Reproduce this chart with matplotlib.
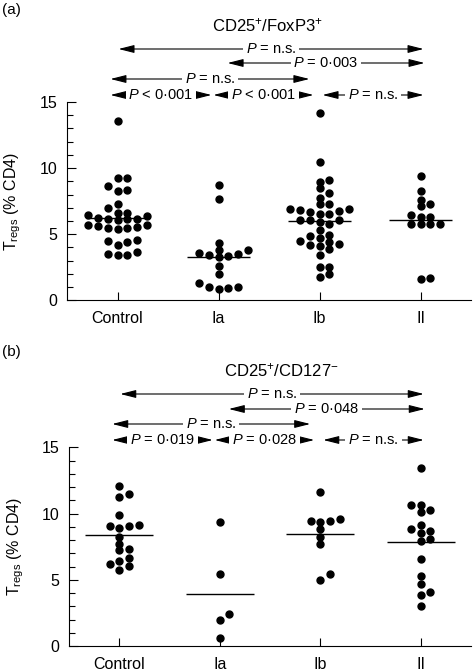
import numpy as np
import matplotlib
matplotlib.use('Agg')
import matplotlib.pyplot as plt
from matplotlib import transforms

plt.rcParams['font.family'] = ['Liberation Sans', 'DejaVu Sans']
plt.rcParams['mathtext.fontset'] = 'custom'
plt.rcParams['mathtext.rm'] = 'Liberation Sans'
plt.rcParams['mathtext.it'] = 'Liberation Sans:italic'
plt.rcParams['mathtext.bf'] = 'Liberation Sans:bold'

# ---------------- data ----------------
categories = ['Control', 'Ia', 'Ib', 'II']

foxp3_control = [13.53, 9.25, 9.25, 8.38, 8.30, 8.65, 7.25, 6.64, 6.97, 6.64,
                 6.36, 6.16, 6.11, 6.16, 6.16, 6.26, 6.49, 5.71, 5.63, 5.48,
                 5.43, 5.48, 5.56, 5.66, 4.55, 4.42, 4.22, 4.47, 3.49, 3.42,
                 3.42, 3.67]
foxp3_ia = [8.75, 7.70, 4.35, 3.80, 3.55, 3.42, 3.25, 3.37, 3.49, 3.80, 2.61,
            1.96, 1.28, 1.03, 0.83, 0.95, 1.03]
foxp3_ib = [14.16, 10.44, 8.98, 9.08, 8.50, 8.10, 7.77, 7.27, 7.27, 6.66, 6.51,
            6.81, 6.87, 6.91, 6.56, 6.76, 6.11, 6.11, 6.11, 5.89, 5.78, 5.31,
            4.93, 4.70, 4.42, 4.08, 4.25, 4.50, 3.85, 4.85, 4.15, 3.42, 2.54,
            2.54, 1.78, 1.98]
foxp3_ii = [9.38, 8.25, 7.62, 7.14, 7.25, 6.31, 6.31, 6.49, 5.76, 5.76, 5.76,
            5.76, 1.58, 1.66]

cd127_control = [12.05, 11.25, 11.45, 9.90, 9.10, 8.90, 9.08, 9.08, 8.25, 7.72,
                 7.36, 7.21, 6.62, 6.44, 6.16, 6.07, 5.75]
cd127_ia = [9.34, 5.45, 2.40, 1.97, 0.63]
cd127_ib = [11.66, 9.42, 9.60, 9.38, 9.47, 8.84, 8.21, 7.68, 5.40, 4.96]
cd127_ii = [13.41, 10.63, 10.63, 10.10, 10.30, 8.85, 8.51, 8.71, 9.17, 7.95,
            8.11, 6.57, 5.25, 4.66, 4.07, 3.86, 3.05]

comparisons = [('Control', 'II'), ('Ia', 'II'), ('Control', 'Ib'),
               ('Control', 'Ia'), ('Ia', 'Ib'), ('Ib', 'II')]
pvalues_a = ['$P$ = n.s.', '$P$ = 0·003', '$P$ = n.s.',
             '$P$ < 0·001', '$P$ < 0·001', '$P$ = n.s.']
pvalues_b = ['$P$ = n.s.', '$P$ = 0·048', '$P$ = n.s.',
             '$P$ = 0·019', '$P$ = 0·028', '$P$ = n.s.']

title_a = 'CD25$^{+}$/FoxP3$^{+}$'
title_b = 'CD25$^{+}$/CD127$^{-}$'
ylabel = 'T$_{\\mathrm{regs}}$ (% CD4)'

# ---------------- layout ----------------
W, H = 473, 672
rows_a_px = [49, 63, 79, 95, 95, 95]
rows_b_px = [394, 409, 424, 440, 440, 440]
end_adjust = [(0.01, 0.03), (0.09, 0.04), (-0.07, -0.10),
              (-0.07, -0.07), (-0.05, -0.06), (0.03, 0.03)]


def swarm_offsets(values, ypx_per_unit=13.25, xpx_per_unit=101.0,
                  col_px=9.7, min_dy_px=6.3):
    values = np.asarray(values, dtype=float)
    order = np.argsort(values, kind='stable')
    placed = {}
    offs = np.zeros(len(values))
    cands = [0]
    for k in range(1, 12):
        cands += [k, -k]
    for idx in order:
        y = values[idx]
        for c in cands:
            ys = placed.get(c, [])
            if all(abs(y - yy) * ypx_per_unit >= min_dy_px for yy in ys):
                placed.setdefault(c, []).append(y)
                offs[idx] = c * col_px / xpx_per_unit
                break
    return offs


fig = plt.figure(figsize=(W / 100, H / 100), dpi=100)
ax_a = fig.add_axes([67 / W, 1 - 300.3 / H, (471 - 67) / W, (300.3 - 102) / H])
ax_b = fig.add_axes([69 / W, 1 - 646 / H, (471 - 69) / W, (646 - 447.3) / H])


def draw_panel(ax, groups, pvals, rows_px, title, title_x_px, title_y_px,
               label, label_y_px, mean_hw):
    for i, vals in enumerate(groups):
        offs = swarm_offsets(vals)
        ax.plot(i + offs, vals, 'o', ms=5, color='black', mec='black',
                clip_on=False, zorder=3)
        m = np.mean(vals)
        ax.plot([i - mean_hw, i + mean_hw], [m, m], color='black', lw=1.0,
                zorder=2, solid_capstyle='butt')
    ax.set_xlim(-0.5, 3.5)
    ax.set_ylim(0, 15)
    ax.set_xticks(range(len(categories)))
    ax.set_xticklabels(categories)
    ax.set_yticks([0, 5, 10, 15])
    ax.set_yticks(np.arange(0, 16, 1), minor=True)
    ax.tick_params(axis='y', which='major', direction='in', length=6.5,
                   width=0.8, pad=7, labelsize=11.5)
    ax.tick_params(axis='y', which='minor', direction='in', length=4.5,
                   width=0.8)
    ax.tick_params(axis='x', which='major', direction='in', length=5.5,
                   width=0.8, pad=8, labelsize=11.5)
    ax.tick_params(axis='x', which='minor', bottom=False)
    for s in ['top', 'right']:
        ax.spines[s].set_visible(False)
    for s in ['left', 'bottom']:
        ax.spines[s].set_linewidth(0.8)
    ax.set_ylabel(ylabel, fontsize=11.5)
    ax.yaxis.set_label_coords(-0.108, 0.5)

    trans = transforms.blended_transform_factory(ax.transData, fig.transFigure)
    idx = {c: i for i, c in enumerate(categories)}
    for (g0, g1), lab, ypx, (dx0, dx1) in zip(comparisons, pvals, rows_px,
                                              end_adjust):
        x0 = idx[g0] + dx0
        x1 = idx[g1] + dx1
        y = 1 - ypx / H
        ax.annotate('', xy=(x1, y), xytext=(x0, y), xycoords=trans,
                    textcoords=trans, annotation_clip=False, zorder=4,
                    arrowprops=dict(arrowstyle='<|-|>,head_length=0.95,head_width=0.24',
                                    color='black', lw=0.8, shrinkA=0,
                                    shrinkB=0, mutation_scale=10))
        ax.text((x0 + x1) / 2, y, lab, transform=trans, ha='center',
                va='center', fontsize=10.5, zorder=5,
                bbox=dict(facecolor='white', edgecolor='none', pad=2.0))
    fig.text(title_x_px / W, 1 - title_y_px / H, title, ha='center',
             va='center', fontsize=12)
    fig.text(2 / W, 1 - label_y_px / H, label, ha='left', va='center',
             fontsize=11)


draw_panel(ax_a, [foxp3_control, foxp3_ia, foxp3_ib, foxp3_ii], pvalues_a,
           rows_a_px, title_a, 268, 25, '(a)', 10, 0.31)
draw_panel(ax_b, [cd127_control, cd127_ia, cd127_ib, cd127_ii], pvalues_b,
           rows_b_px, title_b, 281, 370, '(b)', 352, 0.34)

fig.savefig('out.png', dpi=100)
